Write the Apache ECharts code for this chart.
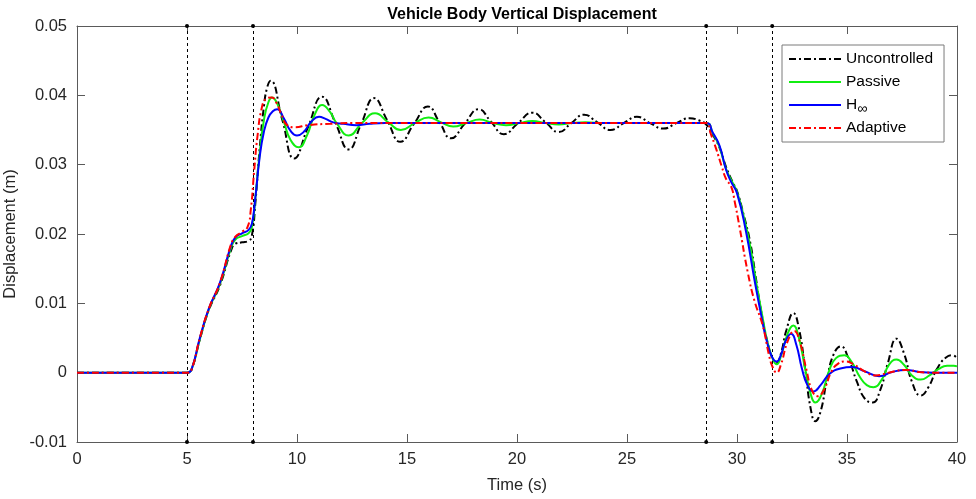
<!DOCTYPE html>
<html>
<head>
<meta charset="utf-8">
<script src="https://cdn.jsdelivr.net/npm/echarts@6/dist/echarts.min.js"></script>
<style>
html,body{margin:0;padding:0;background:#fff;}
#chart{width:976px;height:499px;}
</style>
</head>
<body>
<div id="chart"></div>
<script>
// ---- Data ----
var seriesNames = ['Uncontrolled', 'Passive', 'H\u221E', 'Adaptive'];
var markTimes = [5, 8, 28.6, 31.6];
var xTicks = [0, 5, 10, 15, 20, 25, 30, 35, 40];
var yTicks = [-0.01, 0, 0.01, 0.02, 0.03, 0.04, 0.05];

var uncT = [0, 5, 5.2, 5.6, 6.0, 6.5, 7.0, 7.2, 7.5, 7.8, 7.95, 8.1, 8.3, 8.5, 8.65, 8.8, 9.33, 9.87, 10.5, 11.14, 11.75, 12.35, 12.92, 13.5, 14.1, 14.7, 15.32, 15.95, 16.48, 17.0, 17.62, 18.25, 18.82, 19.4, 20.05, 20.7, 21.3, 21.9, 22.47, 23.05, 23.65, 24.25, 24.85, 25.45, 26.05, 26.65, 27.25, 27.85, 28.25, 28.6, 28.9, 29.2, 29.5, 29.8, 30.0, 30.3, 30.6, 30.85, 31.1, 31.4, 31.65, 31.8, 32.0, 32.25, 32.56, 32.8, 33.1, 33.35, 33.56, 33.8, 34.1, 34.4, 34.72, 35.05, 35.45, 35.8, 36.16, 36.5, 36.85, 37.25, 37.6, 37.95, 38.35, 38.7, 39.1, 39.5, 39.8, 40];
var uncY = [0, 0, 0.0004, 0.005, 0.0091, 0.0126, 0.0176, 0.0186, 0.0188, 0.019, 0.0198, 0.0242, 0.0322, 0.0385, 0.0412, 0.0421, 0.0365, 0.0309, 0.0354, 0.0398, 0.0360, 0.0322, 0.0359, 0.0396, 0.0364, 0.0333, 0.0359, 0.0384, 0.0361, 0.0338, 0.0359, 0.0380, 0.0362, 0.0344, 0.0360, 0.0375, 0.0361, 0.0347, 0.0360, 0.0372, 0.0361, 0.0350, 0.0360, 0.0369, 0.0360, 0.0352, 0.0360, 0.0367, 0.0364, 0.0358, 0.0343, 0.0325, 0.0297, 0.0275, 0.0262, 0.0228, 0.0188, 0.0138, 0.0088, 0.0042, 0.0018, 0.0014, 0.0028, 0.0062, 0.0086, 0.0066, 0.0005, -0.0052, -0.0070, -0.0056, -0.0008, 0.0027, 0.0038, 0.0022, -0.0013, -0.0037, -0.0043, -0.0026, 0.0013, 0.0049, 0.0027, -0.0013, -0.0033, -0.0021, 0.0006, 0.0022, 0.0025, 0.0021];

var pasT = [0, 5, 5.2, 5.6, 6.0, 6.5, 7.0, 7.2, 7.5, 7.8, 7.95, 8.1, 8.3, 8.5, 8.7, 8.87, 9.1, 9.4, 9.7, 10.08, 10.45, 10.8, 11.14, 11.5, 11.8, 12.35, 12.95, 13.55, 14.15, 14.72, 15.35, 15.98, 16.55, 17.1, 17.7, 18.3, 18.9, 19.5, 20.1, 20.7, 21.3, 21.9, 22.5, 23.1, 24.0, 28.6, 28.9, 29.2, 29.5, 29.8, 30.0, 30.3, 30.6, 30.9, 31.15, 31.4, 31.65, 31.8, 32.0, 32.3, 32.56, 32.8, 33.1, 33.35, 33.56, 33.85, 34.2, 34.5, 34.88, 35.2, 35.6, 35.9, 36.2, 36.6, 36.9, 37.25, 37.6, 37.95, 38.35, 38.75, 39.15, 39.55, 39.85, 40];
var pasY = [0, 0, 0.0004, 0.005, 0.0092, 0.0128, 0.018, 0.0192, 0.0197, 0.0201, 0.021, 0.025, 0.0315, 0.0365, 0.039, 0.0397, 0.0388, 0.0362, 0.0336, 0.0325, 0.0342, 0.0372, 0.0386, 0.0376, 0.0360, 0.0342, 0.0360, 0.0374, 0.0361, 0.0350, 0.0360, 0.0368, 0.0361, 0.0355, 0.0360, 0.0365, 0.0360, 0.0357, 0.0360, 0.0363, 0.0360, 0.0358, 0.0360, 0.0361, 0.0360, 0.0360, 0.0345, 0.0326, 0.0294, 0.0274, 0.0261, 0.0226, 0.0182, 0.0125, 0.0082, 0.0042, 0.0018, 0.0012, 0.0024, 0.0056, 0.0068, 0.0052, 0.0005, -0.0031, -0.0043, -0.0031, 0.0004, 0.0021, 0.0025, 0.0016, -0.0007, -0.0018, -0.0021, -0.0009, 0.0011, 0.0019, 0.0011, -0.0004, -0.0010, -0.0004, 0.0005, 0.0010, 0.0010, 0.0009];

var hinfT = [0, 5, 5.2, 5.6, 6.0, 6.5, 7.0, 7.2, 7.5, 7.8, 7.95, 8.1, 8.3, 8.5, 8.7, 8.9, 9.1, 9.4, 9.7, 10.0, 10.3, 10.65, 11.0, 11.3, 11.65, 12.1, 12.7, 13.3, 14.0, 28.6, 28.9, 29.2, 29.5, 29.75, 30.0, 30.4, 30.8, 31.1, 31.35, 31.6, 31.8, 32.0, 32.2, 32.46, 32.7, 32.95, 33.2, 33.47, 33.8, 34.2, 34.7, 35.25, 35.8, 36.46, 37.05, 37.67, 38.3, 39.0, 40];
var hinfY = [0, 0, 0.0004, 0.0052, 0.0093, 0.013, 0.0183, 0.0195, 0.0201, 0.0206, 0.0215, 0.025, 0.031, 0.0348, 0.0368, 0.0377, 0.0380, 0.0367, 0.0349, 0.0342, 0.0347, 0.0362, 0.0369, 0.0366, 0.0361, 0.0359, 0.0357, 0.0359, 0.0360, 0.0360, 0.0346, 0.0328, 0.0293, 0.0274, 0.0259, 0.0205, 0.0133, 0.0083, 0.0046, 0.0022, 0.0016, 0.0026, 0.0045, 0.0056, 0.0040, 0.0006, -0.0018, -0.0027, -0.0018, -0.0002, 0.0006, 0.0008, 0.0002, -0.0005, 0.0001, 0.0004, 0.0001, 0.0, 0.0];

var adaT = [0, 5, 5.2, 5.6, 6.0, 6.5, 7.0, 7.2, 7.5, 7.75, 7.9, 8.05, 8.2, 8.4, 8.6, 8.85, 9.05, 9.3, 9.55, 9.9, 10.5, 11.5, 12.5, 28.6, 28.8, 29.06, 29.3, 29.51, 29.74, 29.9, 30.11, 30.5, 30.8, 31.17, 31.45, 31.62, 31.8, 32.0, 32.3, 32.6, 32.85, 33.15, 33.4, 33.67, 33.95, 34.3, 34.6, 34.95, 35.3, 35.8, 36.3, 36.9, 37.67, 38.3, 39.0, 40];
var adaY = [0, 0, 0.0004, 0.0052, 0.0093, 0.013, 0.0185, 0.0196, 0.0203, 0.021, 0.0235, 0.029, 0.034, 0.0382, 0.0395, 0.0397, 0.039, 0.0372, 0.0357, 0.0354, 0.0357, 0.0359, 0.0360, 0.0360, 0.0345, 0.0322, 0.0298, 0.0279, 0.0268, 0.0246, 0.0211, 0.0143, 0.0103, 0.0068, 0.0026, 0.0008, 0.0, 0.0012, 0.0045, 0.0060, 0.0045, 0.0005, -0.0025, -0.0034, -0.0025, 0.0002, 0.0013, 0.0016, 0.0012, 0.0002, -0.0004, 0.0, 0.0004, 0.0001, 0.0, 0.0];

// ---- Build ----
function pairs(T, Y) { return T.map(function (t, i) { return [t, Y[i]]; }); }
var FONT = '"Liberation Sans", Arial, sans-serif';
var AXC = '#5a5a5a';
var dashDot = [7, 3, 2, 3];

var chart = echarts.init(document.getElementById('chart'), null, {renderer: 'canvas'});

function xAxisCfg(pos, showLabel) {
  return {
    type: 'value', position: pos, min: 0, max: 40, interval: 5,
    axisLine: {show: true, onZero: false, lineStyle: {color: AXC, width: 1}},
    axisTick: {show: true, inside: true, length: 8, lineStyle: {color: AXC}},
    axisLabel: {show: showLabel, margin: 9, color: '#262626', fontFamily: FONT, fontSize: 16.5,
      formatter: function (v) { return String(v); }},
    splitLine: {show: false}
  };
}
function yAxisCfg(pos, showLabel) {
  return {
    type: 'value', position: pos, min: yTicks[0], max: yTicks[yTicks.length - 1], interval: 0.01,
    axisLine: {show: true, onZero: false, lineStyle: {color: AXC, width: 1}},
    axisTick: {show: true, inside: true, length: 8, lineStyle: {color: AXC}},
    axisLabel: {show: showLabel, margin: 10, color: '#262626', fontFamily: FONT, fontSize: 16.5,
      formatter: function (v) { return Math.abs(v) < 1e-9 ? '0' : v.toFixed(2); }},
    splitLine: {show: false}
  };
}

var xb = xAxisCfg('bottom', true);
xb.name = 'Time (s)'; xb.nameLocation = 'middle'; xb.nameGap = 35;
xb.nameTextStyle = {fontFamily: FONT, fontSize: 16.5, color: '#262626'};
var yl = yAxisCfg('left', true);
yl.name = 'Displacement (m)'; yl.nameLocation = 'middle'; yl.nameGap = 51;
yl.nameTextStyle = {fontFamily: FONT, fontSize: 16.5, color: '#262626'};

var styles = [
  {color: '#000000', type: dashDot},
  {color: '#11ee11', type: 'solid'},
  {color: '#0000ff', type: 'solid'},
  {color: '#ff0000', type: dashDot}
];
var dataSets = [pairs(uncT, uncY), pairs(pasT, pasY), pairs(hinfT, hinfY), pairs(adaT, adaY)];

var series = seriesNames.map(function (name, i) {
  return {
    name: name, type: 'line', data: dataSets[i], showSymbol: false, symbol: 'none',
    smooth: 0.5, xAxisIndex: 0, yAxisIndex: 0, z: 3 + i,
    lineStyle: {color: styles[i].color, width: 2, type: styles[i].type},
    itemStyle: {color: styles[i].color},
    emphasis: {disabled: true}
  };
});
series.unshift({
  name: 'marks', type: 'line', data: [], xAxisIndex: 0, yAxisIndex: 0, z: 2,
  markLine: {
    silent: true, animation: false,
    symbol: ['circle', 'circle'], symbolSize: 4,
    label: {show: false},
    lineStyle: {color: '#000', width: 1, type: [3, 3]},
    itemStyle: {color: '#000'},
    data: markTimes.map(function (t) { return {xAxis: t}; })
  }
});

chart.setOption({
  animation: false,
  backgroundColor: '#ffffff',
  title: {
    text: 'Vehicle Body Vertical Displacement',
    left: 517, top: 2, textAlign: 'center',
    textStyle: {fontFamily: FONT, fontSize: 16, fontWeight: 'bold', color: '#000'}
  },
  grid: {left: 77, right: 19, top: 26, bottom: 57, containLabel: false, outerBoundsMode: 'none'},
  xAxis: [xb, xAxisCfg('top', false)],
  yAxis: [yl, yAxisCfg('right', false)],
  legend: {
    data: seriesNames,
    orient: 'vertical', left: 782, top: 45,
    padding: [3, 11, 3, 6], itemGap: 1, itemWidth: 52, itemHeight: 14,
    backgroundColor: '#fff', borderColor: '#7a7a7a', borderWidth: 1,
    selectedMode: false,
    itemStyle: {opacity: 0},
    textStyle: {fontFamily: FONT, fontSize: 15.5, color: '#000', lineHeight: 22,
      rich: {sub: {fontFamily: FONT, fontSize: 14, lineHeight: 6, verticalAlign: 'bottom', color: '#000'}}},
    formatter: function (n) { return n === 'H\u221E' ? 'H{sub|\u221E}' : n; }
  },
  series: series
});
</script>
</body>
</html>
